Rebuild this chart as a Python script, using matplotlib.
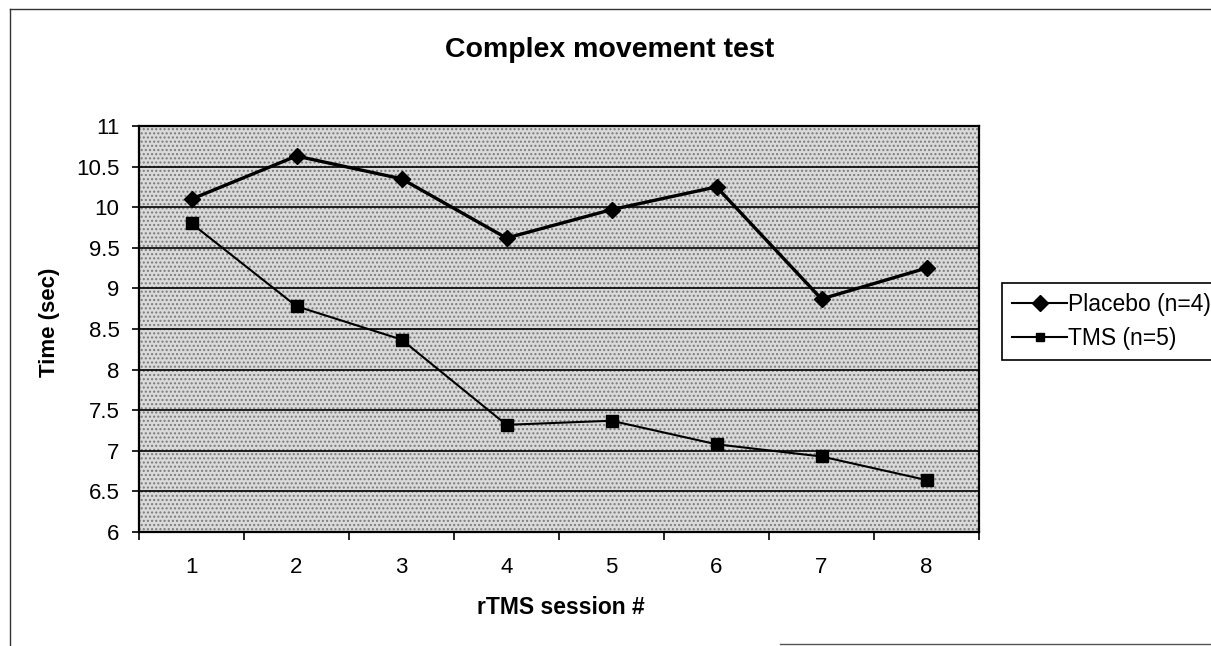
import matplotlib
matplotlib.use("Agg")
import matplotlib.pyplot as plt
from matplotlib.patches import Rectangle
from matplotlib.lines import Line2D

sessions = [1, 2, 3, 4, 5, 6, 7, 8]
placebo = [10.1, 10.63, 10.35, 9.62, 9.97, 10.25, 8.87, 9.25]
tms = [9.8, 8.78, 8.37, 7.32, 7.37, 7.08, 6.93, 6.64]
yticks = [6, 6.5, 7, 7.5, 8, 8.5, 9, 9.5, 10, 10.5, 11]
ytick_labels = ["6", "6.5", "7", "7.5", "8", "8.5", "9", "9.5", "10", "10.5", "11"]

plt.rcParams['font.family'] = ['Liberation Sans', 'DejaVu Sans']

W, H = 1211, 646
fig = plt.figure(figsize=(W / 100, H / 100), dpi=100)
ax = fig.add_axes([139 / W, 1 - 532 / H, (979 - 139) / W, (532 - 126) / H])

ax.set_facecolor('#d2d2d2')
ax.add_patch(Rectangle((0, 0), 1, 1, transform=ax.transAxes, facecolor='#dadada',
                       edgecolor='#7a7a7a', hatch='....', linewidth=0, zorder=0))

ax.set_xlim(0.5, 8.5)
ax.set_ylim(6, 11)
for y in yticks[1:-1]:
    ax.axhline(y, color='black', linewidth=1.2, zorder=1)

ax.plot(sessions, placebo, color='black', linewidth=2.4, marker='D', markersize=8.5,
        zorder=3, label='Placebo (n=4)')
ax.plot(sessions, tms, color='black', linewidth=1.5, marker='s', markersize=8,
        zorder=3, label='TMS (n=5)')

ax.set_yticks(yticks)
ax.set_yticklabels(ytick_labels, fontsize=16)
ax.set_xticks(sessions)
ax.set_xticklabels([str(s) for s in sessions], fontsize=16)
ax.set_xticks([x + 0.5 for x in range(0, 9)], minor=True)
ax.tick_params(axis='x', which='major', length=0, pad=18)
ax.tick_params(axis='x', which='minor', length=5.5, width=1.2, direction='out')
ax.tick_params(axis='y', which='major', length=5, width=1.2, direction='out', pad=9)
for s in ax.spines.values():
    s.set_linewidth(1.6)
    s.set_color('black')

fig.text(50 / W, 1 - 322 / H, 'Time (sec)', rotation=90, fontsize=16, fontweight='bold',
         ha='center', va='center')
fig.text(561 / W, 1 - 607 / H, 'rTMS session #', fontsize=16.5, fontweight='bold',
         ha='center', va='center')
fig.text(610 / W, 1 - 50 / H, 'Complex movement test', fontsize=20.5, fontweight='bold',
         ha='center', va='center')

handles = [Line2D([], [], color='black', linewidth=1.5, marker='D', markersize=8),
           Line2D([], [], color='black', linewidth=1.5, marker='s', markersize=6)]
leg = fig.legend(handles, ['Placebo (n=4)', 'TMS (n=5)'], loc='upper left',
                 bbox_to_anchor=(1002 / W, 1 - 283 / H), fontsize=16.5, frameon=True,
                 fancybox=False, edgecolor='black', framealpha=1, handlelength=2.4,
                 handletextpad=0.05, borderpad=0.45, labelspacing=0.45, borderaxespad=0)
leg.get_frame().set_linewidth(1.2)

fig.add_artist(Line2D([10 / W, 10 / W], [0, 1 - 9 / H], color='#333333', linewidth=1))
fig.add_artist(Line2D([10 / W, 1], [1 - 9 / H, 1 - 9 / H], color='#333333', linewidth=1))
fig.add_artist(Line2D([780 / W, 1], [2 / H, 2 / H], color='#555555', linewidth=1))

fig.savefig('out.png', dpi=100)
